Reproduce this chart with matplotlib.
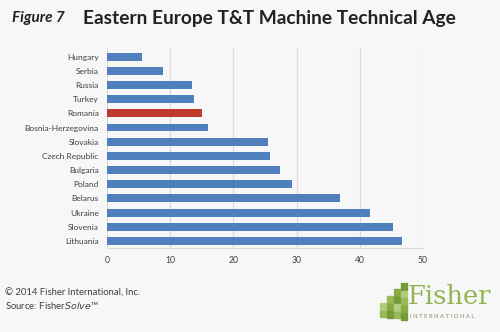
import matplotlib.pyplot as plt
from matplotlib.patches import Rectangle

# Technical age (years) by country, top to bottom
countries = ['Hungary', 'Serbia', 'Russia', 'Turkey', 'Romania', 'Bosnia-Herzegovina',
             'Slovakia', 'Czech Republic', 'Bulgaria', 'Poland', 'Belarus', 'Ukraine',
             'Slovenia', 'Lithuania']
ages = [5.5, 8.8, 13.4, 13.8, 15.0, 16.0, 25.5, 25.8, 27.4, 29.2, 36.9, 41.6, 45.3, 46.6]
highlight = 'Romania'
xticks = [0, 10, 20, 30, 40, 50]

bg = '#f8f7f7'
blue = '#4f7fbd'
red = '#c0392f'

plt.rcParams['font.family'] = ['Lato', 'DejaVu Sans']

fig = plt.figure(figsize=(5, 3.32), dpi=100, facecolor=bg)
ax = fig.add_axes([0.214, 0.253, 0.632, 0.602], facecolor=bg)

colors = [red if c == highlight else blue for c in countries]
ypos = list(range(len(countries)))
ax.barh(ypos, ages, height=0.56, color=colors, zorder=3)

ax.set_ylim(len(countries) - 0.5, -0.6)
ax.set_xlim(0, 50)
ax.set_yticks(ypos)
ax.set_yticklabels(countries, fontsize=6.0, color='#404040')
ax.set_xticks(xticks)
ax.set_xticklabels([str(t) for t in xticks], fontsize=6.2, color='#404040')
ax.tick_params(axis='y', length=0, pad=6)
ax.tick_params(axis='x', length=0, pad=6)

ax.grid(axis='x', color='#d9d9d9', linewidth=0.9, zorder=0)
for side in ['top', 'right', 'left']:
    ax.spines[side].set_visible(False)
ax.spines['bottom'].set_color('#d9d9d9')

# header
fig.text(0.024, 0.945, 'Figure 7', fontsize=11, fontweight='bold', fontstyle='italic',
         color='#222222', va='center')
fig.text(0.166, 0.945, 'Eastern Europe T&T Machine Technical Age', fontsize=13.8,
         fontweight='bold', color='#222222', va='center')

# footer
fig.text(0.01, 0.117, '\u00a9 2014 Fisher International, Inc.', fontsize=6.8,
         color='#404040', va='center')
fig.text(0.01, 0.08, 'Source: Fisher$\\it{Solve}$' + '\u2122', fontsize=6.8,
         color='#404040', va='center')

# logo blocks: columns of small squares stepping up to the right
greens = ['#b3cc7c', '#97b957', '#86ab45', '#739a37']
W, H = 500, 332
cols = [(380, 303), (387, 296), (394, 289), (401, 283)]
for i, (x0, ytop) in enumerate(cols):
    y0 = ytop
    j = 0
    while y0 < 316:
        fig.patches.append(Rectangle((x0 / W, 1 - (y0 + 6.5) / H), 6 / W, 6.5 / H,
                                     transform=fig.transFigure,
                                     color=greens[(i + j) % 4], zorder=5))
        y0 += 7.5
        j += 1
fig.text(0.816, 0.083, 'Fisher', fontsize=18.5, family='DejaVu Serif', color='#93b551',
         va='baseline')
fig.text(0.819, 0.043, 'I N T E R N A T I O N A L', fontsize=4.2, color='#7c8c6c',
         va='baseline')

fig.savefig('out.png', dpi=100, facecolor=bg)
